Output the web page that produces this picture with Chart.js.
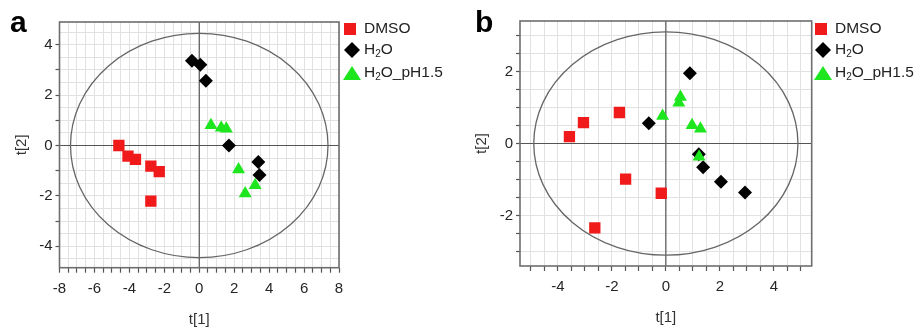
<!DOCTYPE html>
<html>
<head>
<meta charset="utf-8">
<script src="https://cdn.jsdelivr.net/npm/chart.js@4.4.1/dist/chart.umd.min.js"></script>
<style>
  body { margin: 0; background: #fff; }
  #wrap { position: relative; width: 921px; height: 329px; background: #fff; font-family: "Liberation Sans", Arial, sans-serif; }
  canvas { position: absolute; top: 0; }
  #chartA { left: 0; }
  #chartB { left: 460px; }
  .panel { position: absolute; top: 7px; font-size: 30px; font-weight: bold; line-height: 30px; color: #000; }
  .legend { position: absolute; top: 18px; font-size: 15.5px; color: #222; }
  .legend .row { position: relative; height: 21px; line-height: 20px; padding-left: 22px; white-space: nowrap; }
  .legend svg { position: absolute; left: 0; top: 1px; }
  .legend sub { font-size: 10px; vertical-align: -3px; line-height: 0; }
</style>
</head>
<body>
<div id="wrap">
  <canvas id="chartA" width="460" height="329"></canvas>
  <canvas id="chartB" width="461" height="329"></canvas>
  <div class="panel" style="left:10px">a</div>
  <div class="panel" style="left:475px">b</div>
  <div class="legend" style="left:342px">
    <div class="row"><svg width="20" height="20"><rect x="2" y="4" width="12" height="12" fill="#f01a1a"/></svg>DMSO</div>
    <div class="row"><svg width="20" height="20"><polygon points="10,2 18,10 10,18 2,10" fill="#000"/></svg>H<sub>2</sub>O</div>
    <div class="row" style="margin-top:2px"><svg width="20" height="20"><polygon points="10,3 19,17 1,17" fill="#1ee61e"/></svg>H<sub>2</sub>O_pH1.5</div>
  </div>
  <div class="legend" style="left:813px">
    <div class="row"><svg width="20" height="20"><rect x="2" y="4" width="12" height="12" fill="#f01a1a"/></svg>DMSO</div>
    <div class="row"><svg width="20" height="20"><polygon points="10,2 18,10 10,18 2,10" fill="#000"/></svg>H<sub>2</sub>O</div>
    <div class="row" style="margin-top:2px"><svg width="20" height="20"><polygon points="10,3 19,17 1,17" fill="#1ee61e"/></svg>H<sub>2</sub>O_pH1.5</div>
  </div>
</div>
<script>
// ---------- data, panel a ----------
const aDmsoX = [-4.60, -4.08, -3.65, -2.77, -2.29, -2.77];
const aDmsoY = [0.00, -0.42, -0.55, -0.82, -1.04, -2.21];
const aH2oX = [-0.42, 0.06, 0.38, 1.70, 3.38, 3.45];
const aH2oY = [3.36, 3.20, 2.57, 0.00, -0.66, -1.17];
const aPhX = [0.67, 1.26, 1.55, 2.25, 3.20, 2.63];
const aPhY = [0.80, 0.70, 0.66, -0.95, -1.58, -1.91];
const aEllipse = [7.37, 4.45];
const aXTicks = [-8, -6, -4, -2, 0, 2, 4, 6, 8];
const aYTicks = [-4, -2, 0, 2, 4];

// ---------- data, panel b ----------
const bDmsoX = [-3.57, -3.05, -1.72, -1.49, -0.17, -2.63];
const bDmsoY = [0.19, 0.58, 0.86, -0.99, -1.38, -2.34];
const bH2oX = [0.89, -0.63, 1.22, 1.38, 2.04, 2.93];
const bH2oY = [1.95, 0.56, -0.30, -0.66, -1.06, -1.36];
const bPhX = [-0.12, 0.54, 0.48, 0.97, 1.28, 1.23];
const bPhY = [0.76, 1.29, 1.13, 0.51, 0.41, -0.37];
const bEllipse = [4.89, 3.10];
const bXTicks = [-4, -2, 0, 2, 4];
const bYTicks = [-2, 0, 2];

const RED = "#f01a1a", BLACK = "#000000", GREEN = "#1ee61e";
const FONT = "'Liberation Sans', Arial, sans-serif";

const toPoints = (xs, ys) => xs.map((x, i) => ({ x: x, y: ys[i] }));

// zero axes, ellipse and the plot frame
const decor = {
    id: "decor",
    beforeDatasetsDraw(chart, args, opts) {
        const { ctx, chartArea: { left, right, top, bottom }, scales: { x, y } } = chart;
        const x0 = x.getPixelForValue(0), y0 = y.getPixelForValue(0);
        ctx.save();
        ctx.strokeStyle = "#555";
        ctx.lineWidth = 1.2;
        ctx.beginPath();
        ctx.moveTo(x0, top); ctx.lineTo(x0, bottom);
        ctx.moveTo(left, y0); ctx.lineTo(right, y0);
        ctx.stroke();
        const rx = Math.abs(x.getPixelForValue(opts.radii[0]) - x0);
        const ry = Math.abs(y.getPixelForValue(opts.radii[1]) - y0);
        ctx.strokeStyle = "#666";
        ctx.lineWidth = 1.3;
        ctx.beginPath();
        ctx.ellipse(x0, y0, rx, ry, 0, 0, Math.PI * 2);
        ctx.stroke();
        ctx.restore();
    },
    afterDraw(chart) {
        const { ctx, chartArea: { left, right, top, bottom } } = chart;
        ctx.save();
        ctx.strokeStyle = "#6e6e6e";
        ctx.lineWidth = 1.6;
        ctx.strokeRect(left, top, right - left, bottom - top);
        ctx.restore();
    }
};

function halfSteps(scale) {
    const list = [];
    for (let k = Math.ceil(scale.min * 2); k <= Math.floor(scale.max * 2); k++) {
        list.push({ value: k / 2 });
    }
    scale.ticks = list;
}

function makeChart(id, cfg) {
    new Chart(document.getElementById(id), {
        type: "scatter",
        data: {
            datasets: [
                { label: "H2O_pH1.5", data: toPoints(cfg.ph[0], cfg.ph[1]), pointStyle: "triangle", pointRadius: 7.5, backgroundColor: GREEN, borderWidth: 0, order: 0 },
                { label: "H2O", data: toPoints(cfg.h2o[0], cfg.h2o[1]), pointStyle: "rectRot", pointRadius: 7, backgroundColor: BLACK, borderWidth: 0, order: 1 },
                { label: "DMSO", data: toPoints(cfg.dmso[0], cfg.dmso[1]), pointStyle: "rect", pointRadius: 8, backgroundColor: RED, borderWidth: 0, order: 2 }
            ]
        },
        options: {
            responsive: false,
            animation: false,
            events: [],
            layout: { padding: cfg.padding },
            plugins: {
                legend: { display: false },
                tooltip: { enabled: false },
                decor: { radii: cfg.ellipse }
            },
            scales: {
                x: {
                    min: cfg.xRange[0], max: cfg.xRange[1],
                    afterBuildTicks: halfSteps,
                    afterFit: s => { s.height = cfg.xHeight; },
                    border: { display: false },
                    grid: { color: "#e2e2e2", lineWidth: 1, tickLength: 5, tickColor: "#555", tickWidth: 1.2 },
                    ticks: {
                        autoSkip: false, maxRotation: 0, padding: cfg.xTickPad, color: "#262626",
                        font: { family: FONT, size: 15 },
                        callback: v => cfg.xTicks.includes(v) ? String(v) : ""
                    },
                    title: { display: true, text: "t[1]", color: "#333", font: { family: FONT, size: 15 }, padding: { top: 0, bottom: cfg.xTitlePad } }
                },
                y: {
                    min: cfg.yRange[0], max: cfg.yRange[1],
                    afterBuildTicks: halfSteps,
                    afterFit: s => { s.width = cfg.yWidth; },
                    border: { display: false },
                    grid: {
                        color: "#e2e2e2", lineWidth: 1, tickLength: 4, tickWidth: 1.2,
                        tickColor: c => (cfg.yMinorEvery === 1 && c.tick && !Number.isInteger(c.tick.value)) ? "rgba(0,0,0,0)" : "#555"
                    },
                    ticks: {
                        autoSkip: false, padding: 3, color: "#262626",
                        font: { family: FONT, size: 15 },
                        callback: v => cfg.yTicks.includes(v) ? String(v) : ""
                    },
                    title: { display: true, text: "t[2]", color: "#333", font: { family: FONT, size: 15 }, padding: { top: 13, bottom: 0 } }
                }
            }
        },
        plugins: [decor]
    });
}

makeChart("chartA", {
    dmso: [aDmsoX, aDmsoY], h2o: [aH2oX, aH2oY], ph: [aPhX, aPhY],
    ellipse: aEllipse, xTicks: aXTicks, yTicks: aYTicks,
    xRange: [-8, 8], yRange: [-4.85, 4.9], yMinorEvery: 1,
    padding: { left: 0, top: 22, right: 121, bottom: 0 },
    yWidth: 59.5, xHeight: 61.3, xTitlePad: 0, xTickPad: 7.5
});

makeChart("chartB", {
    dmso: [bDmsoX, bDmsoY], h2o: [bH2oX, bH2oY], ph: [bPhX, bPhY],
    ellipse: bEllipse, xTicks: bXTicks, yTicks: bYTicks,
    xRange: [-5.4, 5.4], yRange: [-3.4, 3.4], yMinorEvery: 0.5,
    padding: { left: 0, top: 21, right: 109.3, bottom: 0 },
    yWidth: 60, xHeight: 63, xTitlePad: 2, xTickPad: 7
});
</script>
</body>
</html>
